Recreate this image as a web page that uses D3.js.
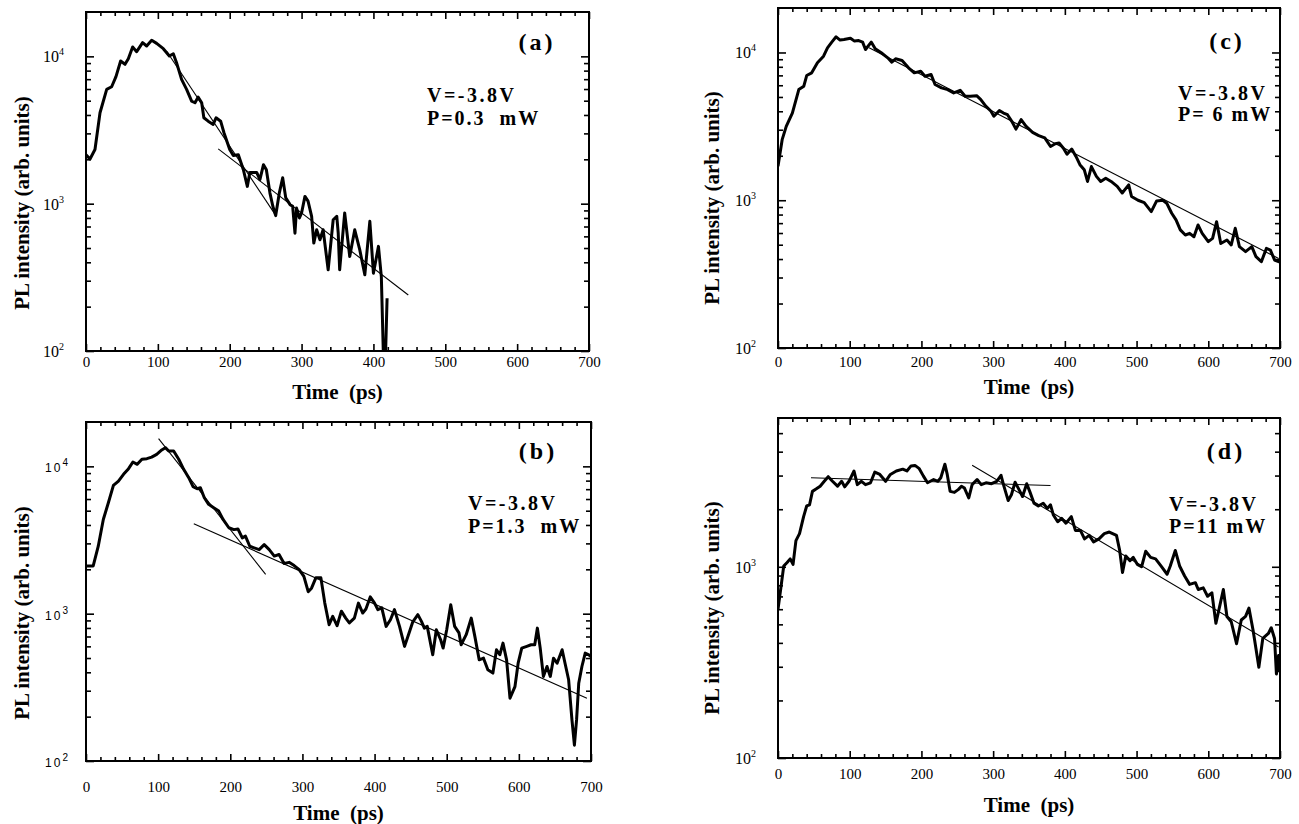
<!DOCTYPE html>
<html><head><meta charset="utf-8">
<script src="https://cdn.jsdelivr.net/npm/d3@7"></script>
<style>body{margin:0;background:#fff} svg{display:block}</style>
</head><body>
<svg id="chart" width="1299" height="824"></svg>
<script>
// ---------------- DATA ----------------
const xTickLabels = [0,100,200,300,400,500,600,700];
const yDecades = [100,1000,10000];

// Panel (a)  V=-3.8V, P=0.3 mW
const timeA = [0,5.6,12.5,19.5,28.8,35.7,41.7,48.2,54.3,58.9,64.9,70.5,78.8,84.4,91.4,98.3,107.6,116,121.5,126,133,140,147,151.7,156,161,164,170,177,181,187.4,192,200,205,212,219,224.5,228,237.5,242,247,251,256,260,264,269,273.7,278,284,287.6,290.8,293,297,300,304.7,309,314,317,321,325.6,330,337,344,349,351,353,360,367,374,381,388,395,400,407,411,413.7,417,419];
const plA = [2150,2010,2330,4140,5970,6220,7280,9300,8830,9640,11570,10760,12390,11760,12850,12250,11270,10050,10420,9060,6980,5970,4970,4840,5290,4840,3830,3630,3450,3830,3630,3030,2330,2120,2150,1700,1310,1630,1630,1455,1840,1700,1180,960,830,1180,1500,1095,985,960,630,933,800,865,1120,1040,820,540,665,569,665,356,778,820,630,356,865,438,665,486,329,759,337,513,320,100,100,228];
const fitA1Time = [112,265], fitA1PL = [10870,820];
const fitA2Time = [184,448.5], fitA2PL = [2355,240];

// Panel (b)  V=-3.8V, P=1.3 mW
const timeB = [0,10,17,24,31,38,45,52,59,65,71,77.5,84.4,91,98,105,110,114.6,121.5,128.5,135.4,142.4,148.4,154,158.6,164,170,177,184,190,198,205,210.6,216.6,221,227,233,240,247,254,261,267.6,274.6,281.5,288.5,295.5,302,308,312.6,318.6,325.6,331,337,342,348,354,360,365,372,377.6,383.6,388,394,400,404.5,410,416,422,427.6,434.6,441.6,447,453,460,465,469,473,480.6,485.6,491.6,495,500,505.6,511,517,520,527,534,539,545,551,557,564,569,573.6,578,583,587.7,594.6,599,604,611,617,622,625.7,629.6,634,639,643.6,648,653,660,664,669,673.6,677,680,683,687.4,692,697,700];
const plB = [2110,2110,2870,4360,5660,7430,7950,8830,9650,10700,10320,11170,11270,11560,12070,12920,13390,12700,12700,11170,9550,8380,7280,7050,7160,6120,5520,5240,4970,4360,3830,3720,3760,3270,3360,2870,2800,2720,2940,2720,2460,2520,2190,2230,2120,1990,1790,1410,1490,1750,1750,1180,842,960,828,1040,933,865,933,1180,1010,1075,1300,1180,1065,1095,820,910,1065,820,600,720,880,985,887,798,820,526,778,665,584,778,1150,820,740,615,720,933,701,486,499,416,395,569,526,631,486,267,320,461,584,600,615,615,798,584,375,438,375,499,461,569,461,356,190,128,190,337,438,540,526,510];
const fitB1Time = [100.6,249], fitB1PL = [15420,1850];
const fitB2Time = [149.4,694.3], fitB2PL = [4070,267];

// Panel (c)  V=-3.8V, P=6 mW
const timeC = [0,5.8,11.5,20,29,36,40,47,55,63.5,69,75,81,86.6,92,101,106.7,112.5,118,122,130,135.6,144,153,158.7,164,173,182,190,199,205,213.5,219,228,236.6,245,254,261,268,277,282.8,289.7,297,301,308.7,314.5,320,326,331.8,339,346,355,363.5,372,380,386.6,392,398,403,409.6,415.5,421,427,431.6,437,444,450,457,464.5,473,480,489,493,502,510.7,520.5,528,536.7,542,549,555,561,568,574,580,585.7,591.5,600,606,611.6,617.4,626,632,637.6,643.4,652,660.7,666.5,674,681,686.6,692.4,698,700];
const plC = [1700,2570,3160,3890,5610,5910,6980,7280,8510,9440,10760,11760,12770,12130,12250,12500,11940,12050,11750,10470,11760,10590,9950,9200,8590,9060,8830,7870,7280,7460,6900,7100,6070,5760,5610,5320,5550,5060,5060,5100,4800,4330,4000,3700,4040,3890,3790,3420,3030,3510,3160,2880,2740,2640,2310,2410,2440,2250,2050,2220,1980,1740,1610,1340,1690,1450,1340,1410,1340,1240,1120,1270,1060,1000,964,838,990,1000,955,817,736,630,582,597,566,680,597,525,552,716,510,538,498,646,485,449,485,415,384,472,460,394,384,400];
const fitC1Time = [127,698], fitC1PL = [10770,404];

// Panel (d)  V=-3.8V, P=11 mW
const timeD = [0,4,8,12.7,17,21,25,30,35.7,40,44,48,53,58.8,64.5,70,76,83,88.7,93,99,106,110.6,116.4,122,129,135,142,150,156.7,165,174,179.7,185.5,191,197,202.8,208.5,217,223,227,232.7,236,240,246,251.7,255.8,260,266,270.7,277.6,283.4,290,297.8,305,311,315,321,325.5,330.6,335,341,346.8,351,357,363,369.8,375.6,380,384,390,395.7,401.5,409,414.7,421.7,427.4,434,440,447.6,455,462,472,476.4,480.4,485,490.8,495.4,501,507,512.7,519.6,526.5,534,542.6,547,554,560,567,574,582,586,593,599,605,610.6,616.4,621,626,632,639.4,646,652,656.7,662.4,666.5,670.5,676,683.8,687.8,692.4,695,698,699.5];
const plD = [600,776,1010,1054,1100,1030,1370,1490,1830,2080,2110,2480,2550,2640,2800,2960,2800,2640,2800,2620,2800,3170,2690,2800,2690,2750,3130,3040,2800,3040,3170,3240,3170,3370,3390,3260,2980,2750,2860,2800,2920,3440,3040,2480,2450,2540,2640,2580,2290,2690,2860,2690,2750,2720,2800,3010,2640,2220,2380,2770,2580,2330,2720,2480,2150,2080,2150,2020,2110,1865,1720,1790,1690,1830,1550,1550,1400,1460,1350,1400,1490,1520,1460,1220,933,1140,1075,1120,1030,1000,1205,1120,1100,1010,914,1010,1217,1010,895,809,826,761,776,701,731,506,634,761,550,516,396,527,550,608,467,373,298,422,448,480,422,275,344,281];
const fitD1Time = [46,380], fitD1PL = [2920,2660];
const fitD2Time = [270.7,698], fitD2PL = [3400,381];

// ---------------- LAYOUT ----------------
const panels = [
  {name:'(a)', V:'V=-3.8V', P:'P=0.3  mW', time:timeA, pl:plA,
   fits:[[fitA1Time,fitA1PL],[fitA2Time,fitA2PL]],
   l:86, r:589, t:12, b:351, yMax:20000,
   lab:[537,50], txt:[427,102,125], xLabPad:5, xTitleY:399, yTitle:[24,203],
   yLabSans:false},
  {name:'(b)', V:'V=-3.8V', P:'P=1.3  mW', time:timeB, pl:plB,
   fits:[[fitB1Time,fitB1PL],[fitB2Time,fitB2PL]],
   l:86, r:591, t:422, b:761, yMax:20000,
   lab:[538,459], txt:[468,510,533], xLabPad:20, xTitleY:820, yTitle:[24,613],
   yLabSans:true},
  {name:'(c)', V:'V=-3.8V', P:'P= 6 mW', time:timeC, pl:plC,
   fits:[[fitC1Time,fitC1PL]],
   l:778, r:1280, t:8, b:348, yMax:20000,
   lab:[1227,49], txt:[1178,100,121], xLabPad:8, xTitleY:394, yTitle:[714,198],
   yLabSans:false},
  {name:'(d)', V:'V=-3.8V', P:'P=11 mW', time:timeD, pl:plD,
   fits:[[fitD1Time,fitD1PL],[fitD2Time,fitD2PL]],
   l:778, r:1280, t:418, b:758, yMax:6000,
   lab:[1226,459], txt:[1169,511,533], xLabPad:10, xTitleY:812, yTitle:[714,608],
   yLabSans:false}
];

const svg = d3.select('#chart');
svg.append('rect').attr('width',1299).attr('height',824).attr('fill','#fff');
const SERIF = '"Liberation Serif","Times New Roman",serif';

panels.forEach((p,i) => {
  const x = d3.scaleLinear().domain([0,700]).range([p.l,p.r]);
  const y = d3.scaleLog().domain([100,p.yMax]).range([p.b,p.t]);
  const g = svg.append('g');

  const clipId = 'clip'+i;
  svg.append('clipPath').attr('id',clipId).append('rect')
    .attr('x',p.l).attr('y',p.t).attr('width',p.r-p.l).attr('height',p.b-p.t);

  const xMinor = d3.range(0,701,20).filter(v => v % 100 !== 0);
  const yMajor = yDecades.filter(v => v <= p.yMax);
  const yMinor = [];
  yDecades.forEach(d => { for (let k=2;k<=9;k++) if (d*k < p.yMax) yMinor.push(d*k); });

  const strip = sel => { sel.select('.domain').remove(); sel.selectAll('line').attr('stroke','#000').attr('stroke-width',1.6); };

  // bottom
  g.append('g').attr('transform',`translate(0,${p.b})`)
    .call(d3.axisBottom(x).tickValues(xMinor).tickSize(-4).tickFormat('')).call(strip);
  const xb = g.append('g').attr('transform',`translate(0,${p.b})`)
    .call(d3.axisBottom(x).tickValues(xTickLabels).tickSize(-7).tickPadding(p.xLabPad).tickFormat(d3.format('d')))
    .call(strip);
  xb.selectAll('text').attr('font-family',SERIF).attr('font-size',15).attr('fill','#000');
  // top
  g.append('g').attr('transform',`translate(0,${p.t})`)
    .call(d3.axisTop(x).tickValues(xMinor).tickSize(-4).tickFormat('')).call(strip);
  g.append('g').attr('transform',`translate(0,${p.t})`)
    .call(d3.axisTop(x).tickValues(xTickLabels).tickSize(-7).tickFormat('')).call(strip);
  // left / right
  [[d3.axisLeft,p.l],[d3.axisRight,p.r]].forEach(([ax,pos]) => {
    g.append('g').attr('transform',`translate(${pos},0)`)
      .call(ax(y).tickValues(yMinor).tickSize(-5).tickFormat('')).call(strip);
    g.append('g').attr('transform',`translate(${pos},0)`)
      .call(ax(y).tickValues(yMajor).tickSize(-8).tickFormat('')).call(strip);
  });

  // y tick labels 10^n
  yMajor.forEach(v => {
    const exp = Math.round(Math.log10(v));
    const tx = g.append('text')
      .attr('x', p.l - (p.yLabSans ? 16 : 22))
      .attr('y', y(v) + 6)
      .attr('text-anchor','end').attr('fill','#000');
    if (p.yLabSans) {
      tx.attr('font-family','"Liberation Sans",Arial,sans-serif').attr('font-size',12).attr('letter-spacing',2);
      tx.append('tspan').text('10');
      tx.append('tspan').attr('dy',-6).attr('font-size',10).text(exp);
    } else {
      tx.attr('font-family',SERIF).attr('font-size',16);
      tx.append('tspan').text('10');
      tx.append('tspan').attr('dy',-7).attr('font-size',10).text(exp);
    }
  });

  // frame
  g.append('rect').attr('x',p.l).attr('y',p.t).attr('width',p.r-p.l).attr('height',p.b-p.t)
    .attr('fill','none').attr('stroke','#000').attr('stroke-width',2);

  // fit lines
  const line = d3.line().x(d=>x(d[0])).y(d=>y(d[1]));
  p.fits.forEach(([ft,fv]) => {
    g.append('path').datum(ft.map((t,k)=>[t,fv[k]]))
      .attr('d',line).attr('fill','none').attr('stroke','#000').attr('stroke-width',1.1)
      .attr('clip-path',`url(#${clipId})`);
  });
  // data trace
  g.append('path').datum(p.time.map((t,k)=>[t,Math.max(p.pl[k],95)]))
    .attr('d',line).attr('fill','none').attr('stroke','#000').attr('stroke-width',3)
    .attr('stroke-linejoin','round').attr('clip-path',`url(#${clipId})`);

  // texts
  g.append('text').attr('x',p.lab[0]).attr('y',p.lab[1]).attr('text-anchor','middle')
    .attr('font-family',SERIF).attr('font-weight','bold').attr('font-size',24)
    .attr('letter-spacing',3).text(p.name);
  g.append('text').attr('x',p.txt[0]).attr('y',p.txt[1])
    .attr('font-family',SERIF).attr('font-weight','bold').attr('font-size',20)
    .attr('letter-spacing',2.5).text(p.V);
  g.append('text').attr('x',p.txt[0]).attr('y',p.txt[2])
    .attr('font-family',SERIF).attr('font-weight','bold').attr('font-size',20)
    .attr('letter-spacing',2).style('white-space','pre').text(p.P);
  g.append('text').attr('x',(p.l+p.r)/2).attr('y',p.xTitleY).attr('text-anchor','middle')
    .attr('font-family',SERIF).attr('font-weight','bold').attr('font-size',21)
    .style('white-space','pre').text('Time  (ps)');
  g.append('text').attr('transform',`translate(${p.yTitle[0]},${p.yTitle[1]}) rotate(-90)`)
    .attr('text-anchor','middle').attr('dominant-baseline','middle')
    .attr('font-family',SERIF).attr('font-weight','bold').attr('font-size',21)
    .text('PL intensity (arb. units)');
});
</script>
</body></html>
